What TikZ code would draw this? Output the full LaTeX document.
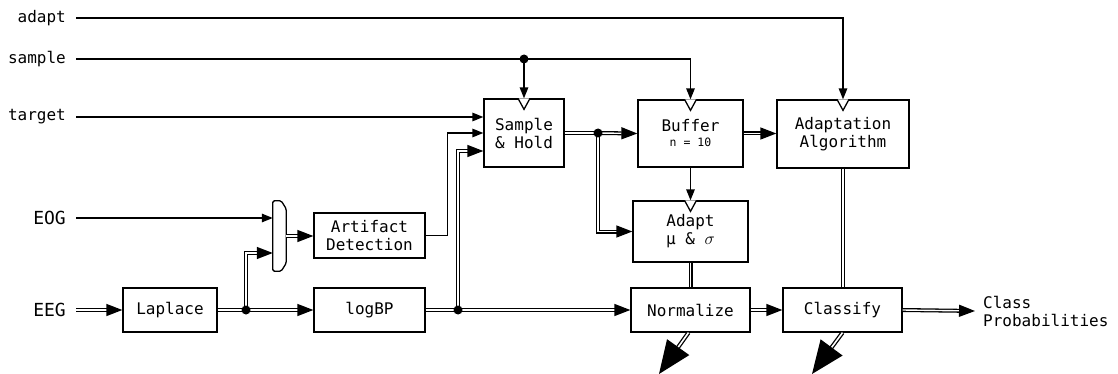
\documentclass[tikz,border=0pt]{standalone}
\usepackage{fontspec}
\setmainfont{DejaVu Sans Mono}
\usetikzlibrary{arrows.meta}

\tikzset{
  blk/.style={draw,line width=1.3pt,inner sep=0pt,align=center,font=\fontsize{16}{18}\selectfont},
  inlabel/.style={anchor=east,inner xsep=10pt,inner ysep=0pt,font=\fontsize{16}{18}\selectfont},
  sig/.style={line width=1.4pt,-{Triangle[length=11pt,width=8.5pt]}},
  data/.style={line width=1.3pt,double,double distance=1.4pt,-{Triangle[length=16pt,width=12pt]}},
  bigout/.style={line width=1.3pt,double,double distance=1.6pt,-{Triangle[length=33pt,width=27pt]}},
  clk/.style={line width=1.3pt,fill=white}
}

\begin{document}
\begin{tikzpicture}[x=1pt,y=-1pt]
  \useasboundingbox (0,0) rectangle (1118,374);

  % inputs
  \node[inlabel] (adapt) at (76,18) {adapt};
  \node[inlabel] (sample) at (76,59) {sample};
  \node[inlabel] (target) at (76,117) {target};
  \node[inlabel,font=\fontsize{18}{20}\selectfont] (eog) at (76,218) {EOG};
  \node[inlabel,font=\fontsize{18}{20}\selectfont] (eeg) at (76,310) {EEG};

  % blocks
  \node[blk,minimum width=94pt,minimum height=44pt] (lap) at (170,310) {Laplace};
  \node[blk,minimum width=111pt,minimum height=44pt] (logbp) at (369.5,310) {logBP};
  \node[blk,minimum width=111pt,minimum height=45pt] (artdet) at (369.5,235.5) {Artifact\\Detection};
  \node[blk,minimum width=80pt,minimum height=68pt] (sh) at (524,133) {Sample\\\& Hold};
  \node[blk,minimum width=105pt,minimum height=67pt] (buf) at (690.5,133.5)
    {Buffer\\[-3pt]{\fontsize{11.5}{12}\selectfont n = 10}};
  \node[blk,minimum width=132pt,minimum height=68pt] (alg) at (843,134) {Adaptation\\Algorithm};
  \node[blk,minimum width=115pt,minimum height=61pt] (adp) at (690.5,231.5) {Adapt\\μ \& $\sigma$};
  \node[blk,minimum width=119pt,minimum height=44pt] (norm) at (690.5,310) {Normalize};
  \node[blk,minimum width=119pt,minimum height=44pt] (cls) at (842.5,310) {Classify};
  \node[anchor=west,inner xsep=8pt,align=left,font=\fontsize{16}{18}\selectfont] (out) at (975,311)
    {Class\\Probabilities};

  % selector in front of the artifact detection
  \node[minimum width=13pt,minimum height=70pt,inner sep=0pt] (mux) at (279.5,236) {};
  \draw[line width=1.3pt,rounded corners=1.5pt] (mux.north west) -- ([xshift=-5pt]mux.north east)
    -- ([yshift=-8pt]mux.north east) -- ([yshift=8pt]mux.south east)
    -- ([xshift=-5pt]mux.south east) -- (mux.south west) -- cycle;

  % junctions
  \coordinate (jsam) at (524,59);
  \coordinate (jsh) at (598,133);
  \coordinate (jlap) at (246,310);
  \coordinate (jlog) at (458,310);
  \coordinate (nout) at (659,374);
  \coordinate (cout) at (812,374);

  % control lines
  \draw[sig] (adapt.east) -| (alg.north);
  \draw[line width=1.4pt] (sample.east) -- (jsam);
  \draw[sig] (jsam) -- (sh.north);
  \draw[sig] (jsam) -| (buf.north);
  \draw[sig] (target.east) -- (target.east -| sh.west);
  \draw[sig] (eog.east) -- (eog.east -| mux.west);
  \draw[sig] (artdet.east) -- ++(22,0) |- (sh.west);
  \draw[sig] (buf.south) -- (adp.north);

  % data lines
  \draw[data] (eeg.east) -- (lap.west);
  \draw[data,-] (lap.east) -- (jlap);
  \draw[data] (jlap) -- (logbp.west);
  \draw[data] (jlap) |- ([yshift=-17pt]mux.west);
  \draw[data] (mux.east) -- (mux.east -| artdet.west);
  \draw[data,-] (logbp.east) -- (jlog);
  \draw[data] (jlog) -- (norm.west);
  \draw[data] (jlog) |- ([yshift=-18pt]sh.west);
  \draw[data,-] (sh.east) -- (jsh);
  \draw[data] (jsh) -- (buf.west);
  \draw[data] (jsh) |- (adp.west);
  \draw[data] (buf.east) -- (buf.east -| alg.west);
  \draw[data,-] (alg.south) -- (alg.south |- cls.north);
  \draw[data,-] (adp.south) -- (norm.north);
  \draw[data] (norm.east) -- (cls.west);
  \draw[data] (cls.east) -- (out.west);
  \draw[bigout] ([xshift=-2pt]norm.south) -- (nout);
  \draw[bigout] (cls.south) -- (cout);

  \foreach \j in {jsam,jsh,jlap,jlog}
    \fill (\j) circle (4.5pt);

  % sampling marks on the triggered blocks
  \foreach \n in {sh,buf,alg,adp}
    \draw[clk] ([xshift=-6pt]\n.north) -- ([yshift=-11pt]\n.north) -- ([xshift=6pt]\n.north);
\end{tikzpicture}
\end{document}
